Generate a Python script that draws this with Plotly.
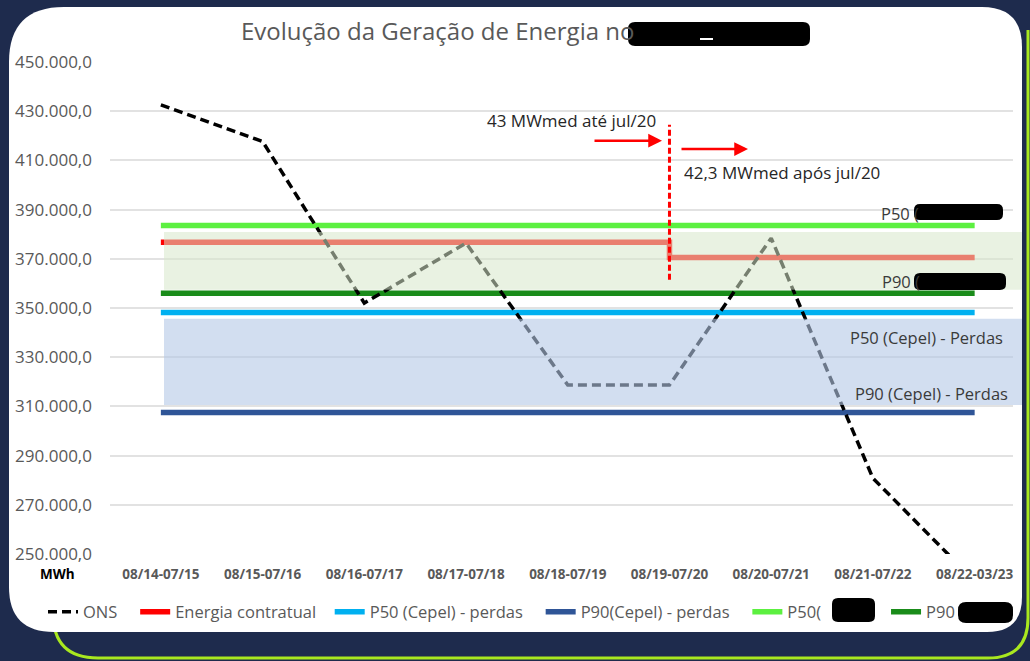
import plotly.graph_objects as go

# ---- data -------------------------------------------------------------
categories = ["08/14-07/15", "08/15-07/16", "08/16-07/17", "08/17-07/18",
              "08/18-07/19", "08/19-07/20", "08/20-07/21", "08/21-07/22",
              "08/22-03/23"]

ons = [432600, 417700, 352000, 376400, 318700, 318700, 378400, 280800, 239000]
energia_contratual = [376680, 376680, 376680, 376680, 376680, 376680,
                      370548, 370548, 370548]
p50_cepel = [348200, 348200, 348200, 348200, 348200, 348200, 348200, 348200, 348200]
p90_cepel = [307500, 307500, 307500, 307500, 307500, 307500, 307500, 307500, 307500]
p50_outro = [383500, 383500, 383500, 383500, 383500, 383500, 383500, 383500, 383500]
p90_outro = [356000, 356000, 356000, 356000, 356000, 356000, 356000, 356000, 356000]

band_outro = [357400, 380900]      # faixa P90-P50 (verde)
band_cepel = [310600, 345600]      # faixa P90-P50 Cepel (azul)
corte_jul20 = [361500, 424500]     # linha vertical em jul/20

y_ticks = [250000, 270000, 290000, 310000, 330000, 350000, 370000,
           390000, 410000, 430000, 450000]

# ---- layout geometry (pixels) -----------------------------------------
W, H = 1030, 661
ML, MR, MT, MB = 110, 17, 62, 107
PW, PH = W - ML - MR, H - MT - MB
NB = "\u00a0"


def px(x):
    return (x - ML) / PW


def py(y):
    return (H - MB - y) / PH


def rounded_path(x0, y0, x1, y1, tl, tr, br, bl):
    pts = [
        ("M", [(x0, y0 + tl)]),
        ("Q", [(x0, y0), (x0 + tl, y0)]),
        ("L", [(x1 - tr, y0)]),
        ("Q", [(x1, y0), (x1, y0 + tr)]),
        ("L", [(x1, y1 - br)]),
        ("Q", [(x1, y1), (x1 - br, y1)]),
        ("L", [(x0 + bl, y1)]),
        ("Q", [(x0, y1), (x0, y1 - bl)]),
    ]
    s = ""
    for cmd, coords in pts:
        s += cmd + " ".join(f"{px(a):.5f},{py(b):.5f}" for a, b in coords) + " "
    return s + "Z"


def blob(x0, y0, x1, y1, r=6):
    return dict(type="path", xref="paper", yref="paper", layer="above",
                path=rounded_path(x0, y0, x1, y1, r, r, r, r),
                fillcolor="black", line=dict(width=0))


fig = go.Figure()

# horizontal reference series
fig.add_trace(go.Scatter(x=categories, y=energia_contratual, name="Energia contratual" + NB * 2,
                         mode="lines", line=dict(color="#ff0000", width=5.5, shape="vh"),
                         legendrank=2))
fig.add_trace(go.Scatter(x=categories, y=p50_cepel, name="P50 (Cepel) - perdas" + NB * 3,
                         mode="lines", line=dict(color="#00b0f0", width=5.5),
                         legendrank=3))
fig.add_trace(go.Scatter(x=categories, y=p90_cepel, name="P90(Cepel) - perdas" + NB * 3,
                         mode="lines", line=dict(color="#2f5597", width=5.5),
                         legendrank=4))
fig.add_trace(go.Scatter(x=categories, y=p50_outro, name="P50(" + NB * 14,
                         mode="lines", line=dict(color="#5cf040", width=5.5),
                         legendrank=5))
fig.add_trace(go.Scatter(x=categories, y=p90_outro, name="P90" + NB * 12,
                         mode="lines", line=dict(color="#1a8c1a", width=5.5),
                         legendrank=6))
# measured generation
fig.add_trace(go.Scatter(x=categories, y=ons, name="ONS" + NB * 3, mode="lines",
                         line=dict(color="black", width=3.5, dash="9px,5px"),
                         legendrank=1))

shapes = []
# green outline behind the card
shapes.append(dict(
    type="path", xref="paper", yref="paper", layer="below",
    path=(f"M{px(53):.5f},{py(590):.5f} L{px(53):.5f},{py(613):.5f} "
          f"Q{px(53):.5f},{py(658):.5f} {px(98):.5f},{py(658):.5f} "
          f"L{px(988):.5f},{py(658):.5f} "
          f"Q{px(1028):.5f},{py(658):.5f} {px(1028):.5f},{py(618):.5f} "
          f"L{px(1028):.5f},{py(30):.5f}"),
    line=dict(color="#a9e81f", width=3)))
# white card
shapes.append(dict(type="path", xref="paper", yref="paper", layer="below",
                   path=rounded_path(9, 7, 1022, 632, 55, 40, 35, 45),
                   fillcolor="white", line=dict(width=0)))
# shaded ranges
shapes.append(dict(type="rect", xref="paper", yref="y", layer="above",
                   x0=px(164), x1=px(1022), y0=band_outro[0], y1=band_outro[1],
                   fillcolor="rgba(215,231,202,0.55)", line=dict(width=0)))
shapes.append(dict(type="rect", xref="paper", yref="y", layer="above",
                   x0=px(164), x1=px(1022), y0=band_cepel[0], y1=band_cepel[1],
                   fillcolor="rgba(180,200,230,0.6)", line=dict(width=0)))
# contract change marker
shapes.append(dict(type="line", xref="x", yref="y", layer="above",
                   x0=categories[5], x1=categories[5],
                   y0=corte_jul20[0], y1=corte_jul20[1],
                   line=dict(color="#ff0000", width=3, dash="6px,3px")))
# hidden names
shapes.append(blob(628, 22, 810, 46, 7))
shapes.append(dict(type="line", xref="paper", yref="paper", layer="above",
                   x0=px(700), x1=px(713), y0=py(39), y1=py(39),
                   line=dict(color="white", width=2)))
shapes.append(blob(914, 204, 1003, 220, 6))
shapes.append(blob(914, 273, 1006, 290, 6))
shapes.append(blob(832, 598, 875, 622, 6))
shapes.append(blob(958, 602, 1013, 623, 8))

annotations = []
ann_font = dict(family="Open Sans", size=16.5, color="#3a3a3a")
note_font = dict(family="Open Sans", size=17, color="#262626")
annotations.append(dict(xref="paper", yref="paper", x=px(485), y=py(120),
                        xanchor="left", yanchor="middle", showarrow=False,
                        text="43 MWmed até jul/20", font=note_font))
annotations.append(dict(xref="paper", yref="paper", x=px(682), y=py(172),
                        xanchor="left", yanchor="middle", showarrow=False,
                        text="42,3 MWmed após jul/20", font=note_font))
for hx, tx, yy in [(662, 593, 140.7), (748, 680, 149)]:
    annotations.append(dict(xref="paper", yref="paper", x=px(hx), y=py(yy),
                            ax=tx - hx, ay=0, text="", showarrow=True,
                            arrowhead=2, arrowsize=1.1, arrowwidth=2.5,
                            arrowcolor="#ff0000", standoff=0, startstandoff=0))
for txt, xx, yy in [("P50 (", 879, 213), ("P90 (", 880, 281),
                    ("P50 (Cepel) - Perdas", 1005, 337),
                    ("P90 (Cepel) - Perdas", 1010, 393)]:
    annotations.append(dict(xref="paper", yref="paper", x=px(xx), y=py(yy),
                            xanchor="left" if txt.endswith("(") else "right",
                            yanchor="middle", showarrow=False, text=txt, font=ann_font))
annotations.append(dict(xref="paper", yref="paper", x=px(57), y=py(574),
                        xanchor="center", yanchor="middle", showarrow=False,
                        text="<b>MWh</b>", font=dict(family="Open Sans", size=13.5, color="black")))

fig.update_layout(
    width=W, height=H,
    margin=dict(l=ML, r=MR, t=MT, b=MB),
    paper_bgcolor="#1e2b4d",
    plot_bgcolor="rgba(0,0,0,0)",
    font=dict(family="Open Sans", color="#595959"),
    separators=",.",
    title=dict(text="Evolução da Geração de Energia no", x=241 / W, xanchor="left",
               y=1 - 32 / H, yanchor="middle", xref="container", yref="container",
               font=dict(family="Open Sans", size=24, color="#595959")),
    showlegend=True,
    legend=dict(orientation="h", x=px(43), xanchor="left", y=py(612), yanchor="middle",
                font=dict(family="Open Sans", size=16.5, color="#595959"),
                bgcolor="rgba(0,0,0,0)", traceorder="normal"),
    shapes=shapes,
    annotations=annotations,
    xaxis=dict(type="category", range=[-0.5, 8.377], showgrid=False, showline=False,
               zeroline=False, ticks="", ticklabelstandoff=10,
               tickfont=dict(family="Open Sans", size=13.5, color="#595959", weight="bold")),
    yaxis=dict(range=[250000, 450000], tickvals=y_ticks, tickformat=",.1f",
               showgrid=True, gridcolor="#e2e2e2", gridwidth=1.5, zeroline=False,
               showline=False, ticks="", ticklabelstandoff=17,
               tickfont=dict(family="Open Sans", size=17, color="#595959")),
)

fig.write_html("out.html")
